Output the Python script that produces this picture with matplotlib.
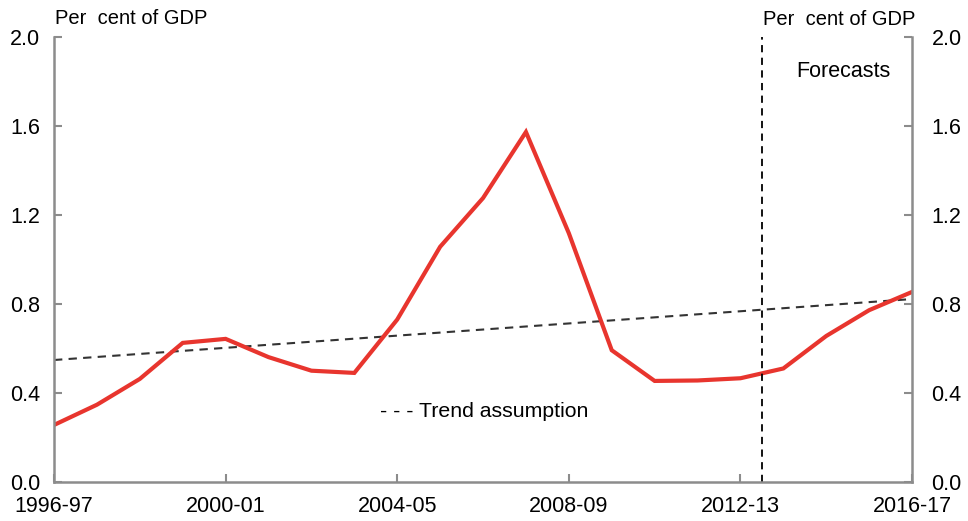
import numpy as np
import matplotlib
matplotlib.use("Agg")
import matplotlib.pyplot as plt

plt.rcParams['font.family'] = ['Liberation Sans', 'DejaVu Sans']

# financial years 1996-97 .. 2016-17
years = ['1996-97', '1997-98', '1998-99', '1999-00', '2000-01', '2001-02', '2002-03',
         '2003-04', '2004-05', '2005-06', '2006-07', '2007-08', '2008-09', '2009-10',
         '2010-11', '2011-12', '2012-13', '2013-14', '2014-15', '2015-16', '2016-17']
values = [0.256, 0.347, 0.463, 0.625, 0.643, 0.561, 0.500, 0.490, 0.730, 1.057,
          1.276, 1.573, 1.118, 0.592, 0.454, 0.456, 0.466, 0.510, 0.656, 0.772, 0.854]
trend_start = 0.548
trend_end = 0.822
tick_years = ['1996-97', '2000-01', '2004-05', '2008-09', '2012-13', '2016-17']
yticks = [0.0, 0.4, 0.8, 1.2, 1.6, 2.0]

x = np.arange(len(years))
trend = np.linspace(trend_start, trend_end, len(years))
forecast_x = years.index('2012-13') + 0.5

fig = plt.figure(figsize=(9.68, 5.21), dpi=100)
ax = fig.add_axes([0.0558, 0.075, 0.8864, 0.854])

ax.plot(x, trend, color='#333333', lw=1.5, ls=(0, (4, 3)))
ax.plot(x, values, color='#e8352e', lw=3.0, solid_joinstyle='miter')
ax.axvline(forecast_x, color='black', lw=1.3, ls=(0, (4, 3)))

ax.set_xlim(0, len(years) - 1)
ax.set_ylim(0, 2.0)
ax.set_xticks([years.index(t) for t in tick_years])
ax.set_xticklabels(tick_years)
ax.set_yticks(yticks)
ax.set_yticklabels(['%.1f' % v for v in yticks])

for s in ['left', 'right', 'bottom']:
    ax.spines[s].set_color('#8c8c8c')
    ax.spines[s].set_linewidth(1.8)
ax.spines['top'].set_visible(False)
ax.tick_params(axis='both', direction='in', length=6, width=1.5, color='#8c8c8c',
               labelsize=15.5, labelcolor='black')
ax.tick_params(axis='x', pad=10)
ax.tick_params(axis='y', pad=10)

ax2 = ax.twinx()
ax2.set_ylim(0, 2.0)
ax2.set_yticks(yticks)
ax2.set_yticklabels(['%.1f' % v for v in yticks])
for s in ['left', 'right', 'bottom', 'top']:
    ax2.spines[s].set_visible(False)
ax2.tick_params(axis='y', direction='in', length=6, width=1.5, color='#8c8c8c',
                labelsize=15.5, pad=14)

fig.text(0.057, 0.965, 'Per  cent of GDP', fontsize=14.5, va='center', ha='left')
fig.text(0.946, 0.962, 'Per  cent of GDP', fontsize=14.5, va='center', ha='right')
ax.text(18.41, 1.843, 'Forecasts', fontsize=15.5, va='center', ha='center')
ax.text(7.6, 0.315, '- - - Trend assumption', fontsize=15.3, va='center', ha='left')

fig.savefig('out.png', dpi=100)
